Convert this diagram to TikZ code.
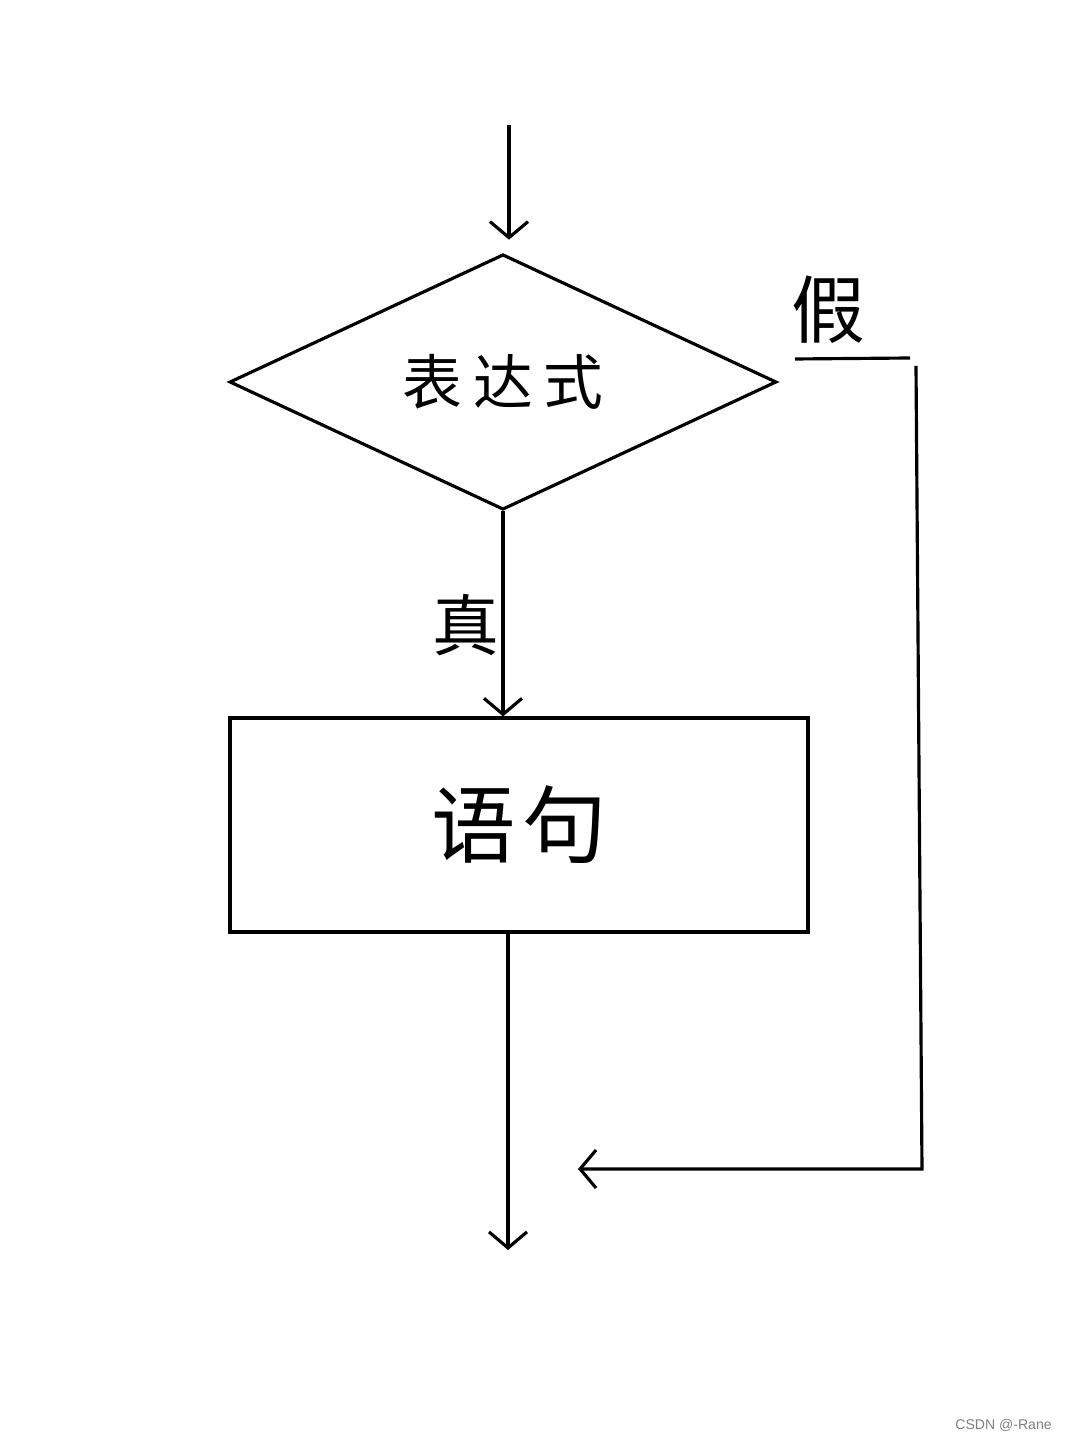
\documentclass[tikz,border=0pt]{standalone}
\usepackage{fontspec}
\newfontfamily\cjk{Noto Sans CJK SC}
\setsansfont{Liberation Sans}
\usepackage{tikz}
\usetikzlibrary{positioning,arrows.meta,calc,shapes.geometric}

\begin{document}
\begin{tikzpicture}[
		font=\cjk,
		line width=0.9pt,
		cond/.style={draw, diamond, inner sep=0pt, minimum width=5.47cm, minimum height=2.34cm},
		box/.style={draw, rectangle, inner sep=0pt, minimum width=5.78cm, minimum height=2.14cm},
		arr/.style={-{Straight Barb[length=1.6mm, width=3.8mm, line width=0.9pt]}},
		lbl/.style={inner sep=0pt}
		]
		\useasboundingbox (0,0) rectangle (10.8,14.4);
		\fill[white] (0,0) rectangle (10.8,14.4);
		\coordinate (start) at (5.09,13.15);
		\node[cond] (expr) at (5.03,10.58) {\fontsize{17pt}{20pt}\selectfont 表\hspace{3pt}达\hspace{3pt}式};
		\node[box] (stmt) at (5.19,6.15) {\fontsize{24pt}{28pt}\selectfont 语\hspace{2pt}句};
		\node[lbl, font=\cjk\fontsize{19pt}{22pt}\selectfont] (yes) at (4.66,8.15) {真};
		\node[lbl, font=\cjk\fontsize{21pt}{24pt}\selectfont] (no) at (8.28,11.30) {假};
		\coordinate (f1) at (7.95,10.81);
		\coordinate (f2) at (9.10,10.82);
		\coordinate (f3) at (9.16,10.74);
		\coordinate (f4) at (9.22,2.71);
		\coordinate (join) at (5.78,2.71);
		\coordinate (end) at (5.08,1.90);
		\draw[arr, shorten >=1.3mm] (start) -- (start |- expr.north);
		\draw[arr] (expr.south) -- (expr.south |- stmt.north);
		\draw[arr] (stmt.south -| end) -- (end);
		\draw (f1) -- (f2);
		\draw[arr] (f3) -- (f4) -- (join);
		\node[font=\sffamily\fontsize{4pt}{5pt}\selectfont, text=gray, anchor=east] (mark) at (10.65,0.15) {CSDN @-Rane};
	\end{tikzpicture}
\end{document}
